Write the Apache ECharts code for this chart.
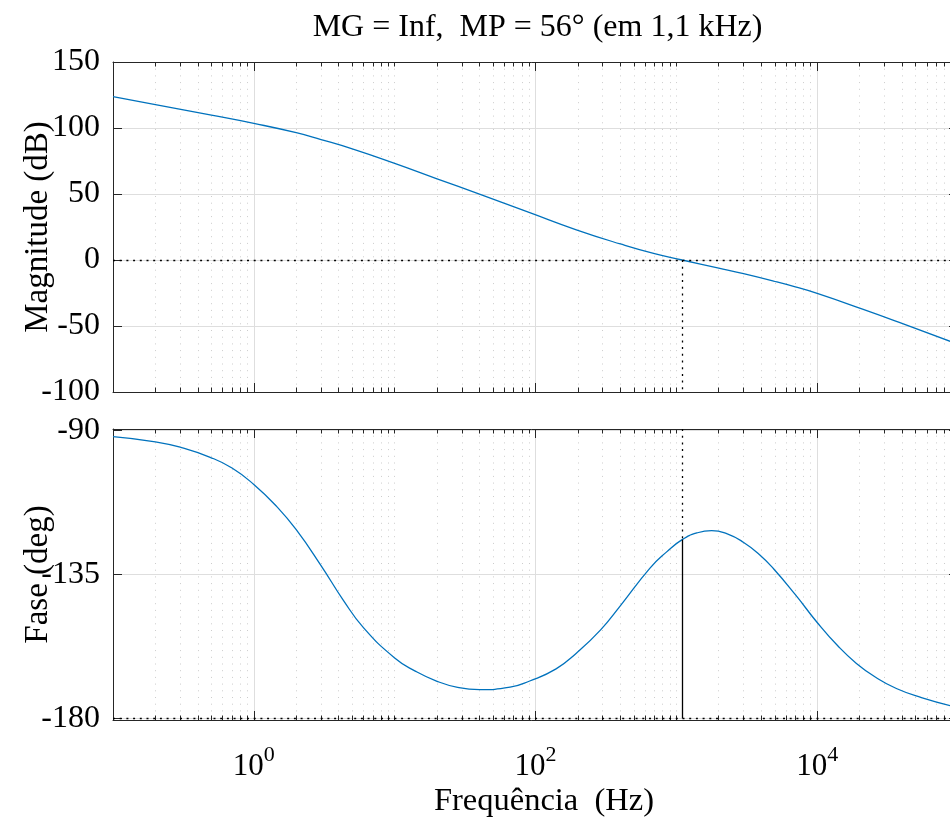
<!DOCTYPE html>
<html>
<head>
<meta charset="utf-8">
<script src="https://cdn.jsdelivr.net/npm/echarts@6/dist/echarts.min.js"></script>
<style>
html,body{margin:0;padding:0;background:#fff;}
#chart{width:950px;height:819px;}
</style>
</head>
<body>
<div id="chart"></div>
<script>
// ---- data ----
const titleText = 'MG = Inf,  MP = 56\u00b0 (em 1,1 kHz)';
const xName = 'Frequ\u00eancia  (Hz)';
const magName = 'Magnitude (dB)';
const phaseName = 'Fase (deg)';

const magFreq = [0.1, 0.2, 0.5, 1, 2, 3, 5, 10, 20, 40, 91, 195, 400, 700, 1100, 2000, 3000, 4900, 7000, 10000, 21000, 40000, 88000];
const magDb   = [123.7, 117.75, 109.75, 103.5, 96.45, 91.25, 84.2, 73.2, 61.5, 49.9, 35.9, 22.9, 12.15, 4.75, 0, -6.15, -10.4, -16.0, -20.4, -25.3, -37.2, -48.0, -61.6];

const phaseFreq = [0.1, 0.2, 0.3, 0.49, 0.7, 1, 1.45, 2, 3, 4.3, 6, 10, 14, 20, 28, 40, 66, 91, 140, 195, 290, 400, 650, 850, 1100, 1400, 1780, 2300, 2990, 3900, 4900, 7000, 10000, 14000, 19000, 26000, 36500, 55000, 88000];
const phaseDeg  = [-91.9, -93.5, -95.2, -98.35, -101.7, -106.85, -113.7, -121.0, -132.2, -142.9, -151.6, -161.1, -165.2, -168.4, -170.3, -171.0, -170.25, -168.3, -164.5, -159.6, -152.3, -144.8, -133.0, -128.0, -124.1, -122.0, -121.27, -122.3, -124.9, -128.8, -133.2, -141.3, -150.0, -157.3, -162.8, -167.15, -170.65, -173.5, -176.0];

const crossoverFreq = 1100;      // Hz, 0 dB crossing
const phaseAtCrossover = -124.1; // deg
const phaseRefLine = -180;

const xMin = 0.1, xMax = 1e5;
const xMajorTicks = [1, 100, 10000];
const xMinorTicks = [];
[0.1, 1, 10, 100, 1000, 10000].forEach(function (d) {
  for (let k = 2; k <= 9; k++) xMinorTicks.push(+(k * d).toPrecision(3));
});
xMinorTicks.push(10, 1000);

const magMin = -100, magMax = 150, magInterval = 50;
const phaseMin = -180.5, phaseMax = -89.5;
const phaseTicks = [-180, -135, -90];

// ---- chart ----
const FONT = 'Liberation Serif';
const AX = '#262626';
const GRID_MAJOR = '#dedede';
const GRID_MINOR = '#cccccc';

function xAx(gridIndex, pos, major, withLabels, withSplit) {
  return {
    type: 'log', logBase: 10, gridIndex: gridIndex, position: pos,
    min: xMin, max: xMax,
    axisLine: { show: major, onZero: false, lineStyle: { color: AX, width: 1 } },
    axisTick: { show: true, inside: true, length: major ? 9 : 4.5,
      customValues: major ? xMajorTicks : xMinorTicks,
      lineStyle: { color: AX, width: 1 } },
    axisLabel: withLabels ? {
      show: true, customValues: xMajorTicks, margin: 24,
      formatter: function (v) { return '{b|10}{s|' + Math.round(Math.log10(v)) + '}'; },
      rich: {
        b: { fontFamily: FONT, fontSize: 31, color: '#000', verticalAlign: 'bottom', lineHeight: 38 },
        s: { fontFamily: FONT, fontSize: 22, color: '#000', verticalAlign: 'top', lineHeight: 22 }
      }
    } : { show: false },
    splitLine: withSplit ? { show: true, lineStyle: major ? { color: GRID_MAJOR, width: 1, type: 'solid' } : { color: GRID_MINOR, width: 1, type: [1, 5.7] } } : { show: false },
    name: (withLabels ? xName : ''),
    nameLocation: 'middle', nameGap: 65, nameMoveOverlap: false,
    nameTextStyle: { fontFamily: FONT, fontSize: 32.5, color: '#000', padding: [0, 0, 0, 17] }
  };
}

function yAx(gridIndex, pos, cfg, name) {
  const left = pos === 'left';
  const o = {
    type: 'value', gridIndex: gridIndex, position: pos,
    min: cfg.min, max: cfg.max,
    axisLine: { show: true, onZero: false, lineStyle: { color: AX, width: 1 } },
    axisTick: { show: true, inside: true, length: 9, lineStyle: { color: AX, width: 1 } },
    axisLabel: { show: left, fontFamily: FONT, fontSize: 32, color: '#000', margin: 13 },
    splitLine: { show: left, lineStyle: { color: GRID_MAJOR, width: 1 } },
    name: left ? name : '', nameLocation: 'middle', nameRotate: 90, nameGap: 58, nameMoveOverlap: false,
    nameTextStyle: { fontFamily: FONT, fontSize: 33, color: '#000' }
  };
  if (cfg.interval) o.interval = cfg.interval;
  if (cfg.ticks) { o.axisTick.customValues = cfg.ticks; o.axisLabel.customValues = cfg.ticks; }
  return o;
}

const dotted = { color: '#000', width: 1.3, type: [2, 4.7] };

const option = {
  animation: false,
  backgroundColor: '#fff',
  textStyle: { fontFamily: FONT },
  graphic: [{
    type: 'text', x: 537.5, y: 28,
    style: { text: titleText, fontFamily: FONT, fontSize: 32, fill: '#000', align: 'center', verticalAlign: 'middle', textAlign: 'center', textVerticalAlign: 'middle' }
  }],
  grid: [
    { left: 113, top: 62, width: 845, height: 330, outerBoundsMode: 'none', containLabel: false },
    { left: 113, top: 429, width: 845, height: 291, outerBoundsMode: 'none', containLabel: false }
  ],
  xAxis: [
    xAx(0, 'bottom', true, false, true),
    xAx(0, 'bottom', false, false, true),
    xAx(0, 'top', true, false, false),
    xAx(0, 'top', false, false, false),
    xAx(1, 'bottom', true, true, true),
    xAx(1, 'bottom', false, false, true),
    xAx(1, 'top', true, false, false),
    xAx(1, 'top', false, false, false)
  ],
  yAxis: [
    yAx(0, 'left', { min: magMin, max: magMax, interval: magInterval }, magName),
    yAx(0, 'right', { min: magMin, max: magMax, interval: magInterval }, ''),
    yAx(1, 'left', { min: phaseMin, max: phaseMax, ticks: phaseTicks }, phaseName),
    yAx(1, 'right', { min: phaseMin, max: phaseMax, ticks: phaseTicks }, '')
  ],
  series: [
    {
      type: 'line', xAxisIndex: 0, yAxisIndex: 0,
      data: magFreq.map(function (f, i) { return [f, magDb[i]]; }),
      showSymbol: false, smooth: 0.5,
      lineStyle: { color: '#0072BD', width: 1.3 },
      markLine: {
        silent: true, symbol: 'none', label: { show: false }, animation: false,
        data: [
          { yAxis: 0, lineStyle: dotted },
          [{ coord: [crossoverFreq, 0], lineStyle: dotted }, { coord: [crossoverFreq, magMin] }]
        ]
      }
    },
    {
      type: 'line', xAxisIndex: 4, yAxisIndex: 2,
      data: phaseFreq.map(function (f, i) { return [f, phaseDeg[i]]; }),
      showSymbol: false, smooth: 0.5,
      lineStyle: { color: '#0072BD', width: 1.3 },
      markLine: {
        silent: true, symbol: 'none', label: { show: false }, animation: false,
        data: [
          { yAxis: phaseRefLine, lineStyle: dotted },
          [{ coord: [crossoverFreq, phaseMax], lineStyle: dotted }, { coord: [crossoverFreq, phaseAtCrossover] }],
          [{ coord: [crossoverFreq, phaseAtCrossover], lineStyle: { color: '#000', width: 1.3, type: 'solid' } }, { coord: [crossoverFreq, phaseRefLine] }]
        ]
      }
    }
  ]
};

const chart = echarts.init(document.getElementById('chart'), null, { renderer: 'canvas' });
chart.setOption(option);
</script>
</body>
</html>
